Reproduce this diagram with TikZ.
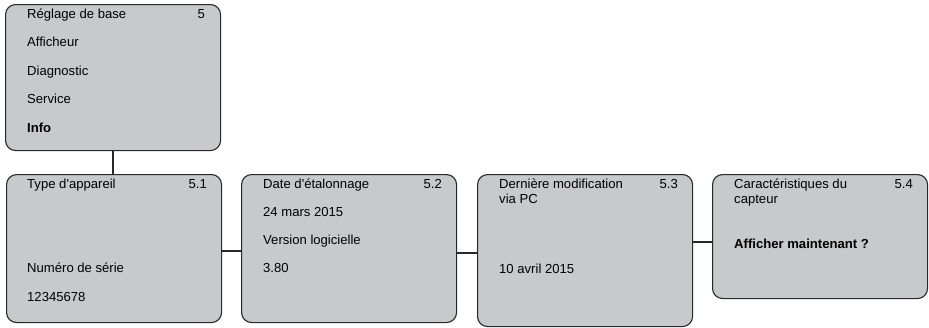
\documentclass[tikz,border=0pt]{standalone}
\usepackage{fontspec}
\setmainfont{Liberation Sans}
\usetikzlibrary{positioning,calc}
\definecolor{panelgray}{RGB}{200,201,203}
\definecolor{rimgray}{RGB}{40,40,40}

\begin{document}
\begin{tikzpicture}[x=1pt,y=-1pt,
  menu/.style={draw=rimgray,fill=panelgray,rounded corners=10pt,line width=1.1pt,
               anchor=north west,minimum width=215pt,inner sep=0pt},
  entry/.style={anchor=base west,inner sep=0pt,font=\fontsize{13.1}{15}\selectfont},
  idx/.style={anchor=base east,inner sep=0pt,font=\fontsize{13.1}{15}\selectfont},
  link/.style={line width=2pt,rimgray}]
  \useasboundingbox (0,0) rectangle (929,327);

  % menu boxes
  \node[menu,minimum height=146pt] (base) at (5,4)   {};
  \node[menu,minimum height=148pt] (typ)  at (6,174) {};
  \node[menu,minimum height=148pt] (dat)  at (241,174) {};
  \node[menu,minimum height=152pt] (mod)  at (477,174) {};
  \node[menu,minimum height=124pt] (capt) at (712,174) {};

  % connectors
  \draw[link] (base.south) -- (base.south |- typ.north);
  \draw[link] ([yshift=-2pt]typ.east) -- ([yshift=-2pt]typ.east -| dat.west);
  \draw[link] ([yshift=-4.5pt]dat.east) -- ([yshift=-4.5pt]dat.east -| mod.west);
  \draw[link] ([yshift=-5pt]capt.west -| mod.east) -- ([yshift=-5pt]capt.west);

  % main menu
  \node[entry] (b1) at ($(base.north west)+(22,14)$)  {Réglage de base};
  \node[entry] (b2) at ($(base.north west)+(22,42.5)$) {Afficheur};
  \node[entry] (b3) at ($(base.north west)+(22,71)$)  {Diagnostic};
  \node[entry] (b4) at ($(base.north west)+(22,99.5)$) {Service};
  \node[entry] (b5) at ($(base.north west)+(22,128)$) {\bfseries Info};
  \node[idx]   (bn) at ($(base.north east)+(-16,14)$) {5};

  % 5.1
  \node[entry] (t1) at ($(typ.north west)+(21,14)$)  {Type d\textquotesingle appareil};
  \node[entry] (t2) at ($(typ.north west)+(21,98.5)$) {Numéro de série};
  \node[entry] (t3) at ($(typ.north west)+(21,127)$) {12345678};
  \node[idx]   (tn) at ($(typ.north east)+(-15,14)$) {5.1};

  % 5.2
  \node[entry] (d1) at ($(dat.north west)+(22,14)$)  {Date d\textquotesingle étalonnage};
  \node[entry] (d2) at ($(dat.north west)+(22,42)$)  {24 mars 2015};
  \node[entry] (d3) at ($(dat.north west)+(22,70)$)  {Version logicielle};
  \node[entry] (d4) at ($(dat.north west)+(22,98.5)$) {3.80};
  \node[idx]   (dn) at ($(dat.north east)+(-15,14)$) {5.2};

  % 5.3
  \node[entry] (m1) at ($(mod.north west)+(22,14)$)  {Dernière modification};
  \node[entry] (m2) at ($(mod.north west)+(22,29)$)  {via PC};
  \node[entry] (m3) at ($(mod.north west)+(22,99)$)  {10 avril 2015};
  \node[idx]   (mn) at ($(mod.north east)+(-15,14)$) {5.3};

  % 5.4
  \node[entry] (c1) at ($(capt.north west)+(22,14)$)  {Caractéristiques du};
  \node[entry] (c2) at ($(capt.north west)+(22,29)$)  {capteur};
  \node[entry] (c3) at ($(capt.north west)+(22,74)$)  {\bfseries Afficher maintenant ?};
  \node[idx]   (cn) at ($(capt.north east)+(-15,14)$) {5.4};
\end{tikzpicture}
\end{document}
